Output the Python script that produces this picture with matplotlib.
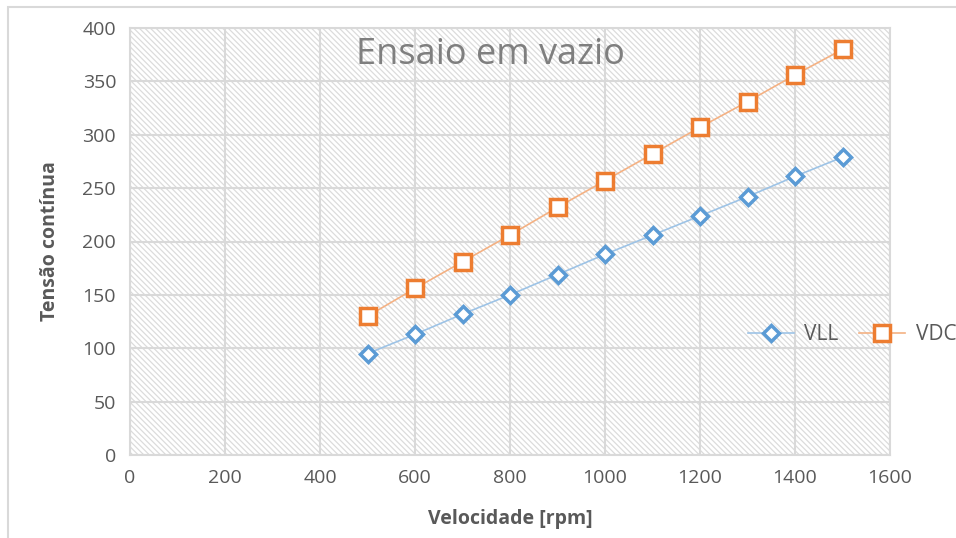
import matplotlib.pyplot as plt
from matplotlib.patches import Rectangle

# velocidade [rpm]
velocidade = [500, 600, 700, 800, 900, 1000, 1100, 1200, 1300, 1400, 1500]
# tensoes
vll = [95, 113, 132, 150, 169, 188, 206, 224, 242, 261, 279]
vdc = [130, 156, 181, 206, 232, 257, 282, 307, 331, 356, 380]

x_ticks = [0, 200, 400, 600, 800, 1000, 1200, 1400, 1600]
y_ticks = [0, 50, 100, 150, 200, 250, 300, 350, 400]

plt.rcParams['font.family'] = ['Open Sans', 'DejaVu Sans']
plt.rcParams['hatch.linewidth'] = 0.9
plt.rcParams['hatch.color'] = '#dcdcdc'

fig = plt.figure(figsize=(9.56, 5.38), dpi=100)
ax = fig.add_axes([130 / 956, 1 - 455 / 538, 760 / 956, 427 / 538])

# fundo tracejado da area do grafico
ax.add_patch(Rectangle((0, 0), 1, 1, transform=ax.transAxes, facecolor='white',
                       edgecolor='#dcdcdc', hatch='\\' * 6, linewidth=0, zorder=0))

ax.plot(velocidade, vll, color='#9dc3e6', linewidth=1.2, marker='D', markersize=8,
        markerfacecolor='white', markeredgecolor='#5b9bd5', markeredgewidth=2.5,
        label='VLL', zorder=3)
ax.plot(velocidade, vdc, color='#f4b183', linewidth=1.2, marker='s', markersize=11,
        markerfacecolor='white', markeredgecolor='#ed7d31', markeredgewidth=2.5,
        label='VDC', zorder=3)

ax.set_xlim(0, 1600)
ax.set_ylim(0, 400)
ax.set_xticks(x_ticks)
ax.set_yticks(y_ticks)
ax.grid(True, color='#d9d9d9', linewidth=1.5, zorder=1)
ax.set_axisbelow(True)
for s in ax.spines.values():
    s.set_color('#d9d9d9')
    s.set_linewidth(1.5)
ax.tick_params(length=0, labelsize=14, colors='#595959', pad=10)

ax.set_xlabel('Velocidade [rpm]', fontsize=14, fontweight='bold', color='#595959', labelpad=16)
ax.set_ylabel('Tensão contínua', fontsize=14, fontweight='bold', color='#595959', labelpad=16)

fig.text(490 / 956, 1 - 55 / 538, 'Ensaio em vazio', fontsize=26, color='#7f7f7f',
         ha='center', va='center')

fig.legend(loc='center right', bbox_to_anchor=(1.02, 1 - 335 / 538), ncol=2, frameon=False,
           fontsize=15, labelcolor='#595959', handlelength=2.2, columnspacing=1.0,
           handletextpad=0.5)

# borda do grafico
fig.add_artist(Rectangle((8 / 956, -0.1), 1.1, 1 - 7 / 538 + 0.1, transform=fig.transFigure,
                         facecolor='none', edgecolor='#d9d9d9', linewidth=1.5))

plt.savefig('out.png', dpi=100)
